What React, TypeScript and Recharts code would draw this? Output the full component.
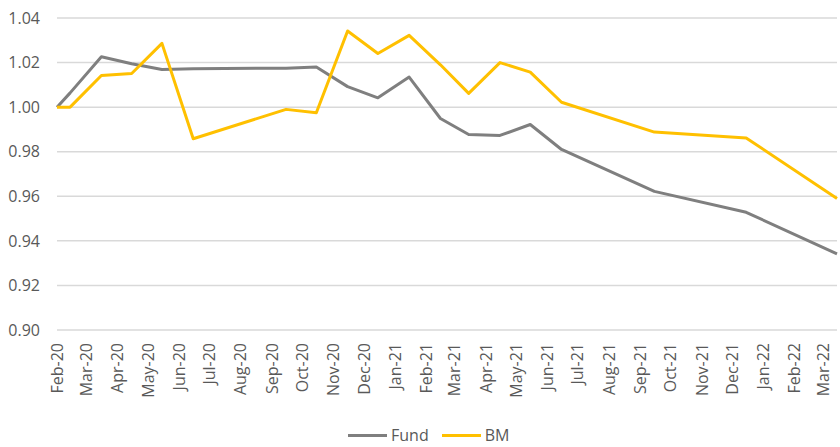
import React from 'react';
import { LineChart, Line, XAxis, YAxis, CartesianGrid, Legend } from 'recharts';

// observation dates (mid-month after the start)
const dates = [
  '2020-02-01', '2020-02-14', '2020-03-16', '2020-04-15', '2020-05-15', '2020-06-15',
  '2020-09-15', '2020-10-15', '2020-11-15', '2020-12-15', '2021-01-15', '2021-02-15',
  '2021-03-15', '2021-04-15', '2021-05-15', '2021-06-15', '2021-09-15', '2021-12-15',
  '2022-03-15',
];

const fund = [
  1.0, 1.0064, 1.0226, 1.0195, 1.0169, 1.0172, 1.0175, 1.018, 1.0092, 1.0042, 1.0135, 0.9949,
  0.9877, 0.9873, 0.9922, 0.981, 0.9622, 0.9528, 0.9342,
];

const bm = [
  1.0, 1.0, 1.0142, 1.0151, 1.0286, 0.9858, 0.999, 0.9975, 1.0342, 1.0241, 1.0322, 1.019,
  1.0062, 1.02, 1.0157, 1.0022, 0.9888, 0.9862, 0.959,
];

const seriesOrder = ['Fund', 'BM'];
const yTicks = [0.9, 0.92, 0.94, 0.96, 0.98, 1.0, 1.02, 1.04];
const monthNames = ['Jan', 'Feb', 'Mar', 'Apr', 'May', 'Jun', 'Jul', 'Aug', 'Sep', 'Oct', 'Nov', 'Dec'];

const toTs = (s: string) => {
  const [y, m, d] = s.split('-').map(Number);
  return Date.UTC(y, m - 1, d);
};

const data = dates.map((d, i) => ({ t: toTs(d), Fund: fund[i], BM: bm[i] }));

// month-start ticks, Feb-20 .. Mar-22
const xTicks: number[] = [];
for (let y = 2020, m = 1; y < 2022 || (y === 2022 && m <= 2); m++) {
  if (m > 11) { m = 0; y++; }
  xTicks.push(Date.UTC(y, m, 1));
}

const fmtMonth = (v: number) => {
  const d = new Date(v);
  return `${monthNames[d.getUTCMonth()]}-${String(d.getUTCFullYear()).slice(2)}`;
};

const TEXT = '#595959';

const MonthTick = (props: any) => {
  const { x, y, payload } = props;
  return (
    <g transform={`translate(${x},${y + 5})`}>
      <text transform="rotate(-90)" textAnchor="end" dy="0.36em" fill={TEXT} fontSize={16}>
        {fmtMonth(payload.value)}
      </text>
    </g>
  );
};

const LegendContent = (props: any) => {
  const items = [...(props.payload || [])].sort(
    (a: any, b: any) => seriesOrder.indexOf(a.value) - seriesOrder.indexOf(b.value)
  );
  return (
    <div style={{ display: 'flex', alignItems: 'center', paddingLeft: 348, height: 24, fontSize: 16, color: TEXT }}>
      {items.map((p: any) => (
        <div key={p.value} style={{ display: 'flex', alignItems: 'center', marginRight: 13 }}>
          <span style={{ display: 'inline-block', width: 39, height: 3, background: p.color, marginRight: 4 }} />
          <span>{p.value}</span>
        </div>
      ))}
    </div>
  );
};

export default function App() {
  return (
    <div style={{ position: 'absolute', left: 0, top: 0, width: 840, height: 447, background: '#fff', fontFamily: "'Open Sans', sans-serif" }}>
      <LineChart width={840} height={447} data={data} margin={{ top: 18, right: 3, left: 7, bottom: 0 }}>
        <CartesianGrid vertical={false} stroke="#d9d9d9" strokeWidth={1.5} />
        <XAxis
          dataKey="t"
          type="number"
          domain={[toTs('2020-02-01'), toTs('2022-03-15')]}
          ticks={xTicks}
          interval={0}
          tick={<MonthTick />}
          axisLine={false}
          tickLine={false}
          height={93}
        />
        <YAxis
          domain={[0.9, 1.04]}
          ticks={yTicks}
          interval={0}
          tickFormatter={(v: number) => v.toFixed(2)}
          tick={{ fill: TEXT, fontSize: 16 }}
          axisLine={false}
          tickLine={false}
          tickMargin={11}
          width={50}
        />
        <Legend verticalAlign="bottom" content={<LegendContent />} wrapperStyle={{ left: 0, width: 840 }} />
        <Line type="linear" dataKey="Fund" stroke="#7f7f7f" strokeWidth={3} strokeLinejoin="round" dot={false} isAnimationActive={false} />
        <Line type="linear" dataKey="BM" stroke="#ffc000" strokeWidth={3} strokeLinejoin="round" dot={false} isAnimationActive={false} />
      </LineChart>
    </div>
  );
}
